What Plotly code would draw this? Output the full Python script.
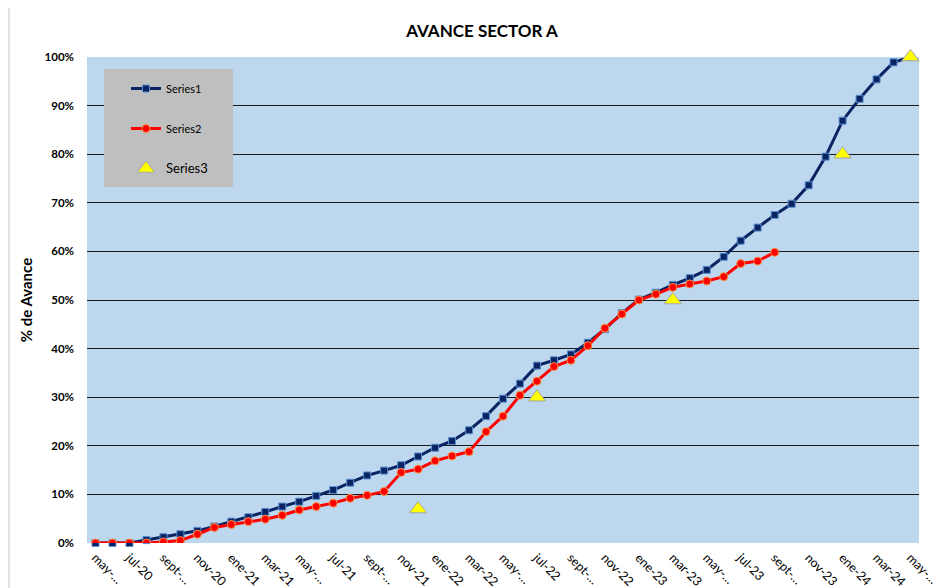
import plotly.graph_objects as go

categories = [
    "may-20", "jun-20", "jul-20", "ago-20", "sept-20", "oct-20", "nov-20", "dic-20",
    "ene-21", "feb-21", "mar-21", "abr-21", "may-21", "jun-21", "jul-21", "ago-21",
    "sept-21", "oct-21", "nov-21", "dic-21", "ene-22", "feb-22", "mar-22", "abr-22",
    "may-22", "jun-22", "jul-22", "ago-22", "sept-22", "oct-22", "nov-22", "dic-22",
    "ene-23", "feb-23", "mar-23", "abr-23", "may-23", "jun-23", "jul-23", "ago-23",
    "sept-23", "oct-23", "nov-23", "dic-23", "ene-24", "feb-24", "mar-24", "abr-24",
    "may-24",
]

series1 = [0, 0, 0, 0.6, 1.2, 1.8, 2.5, 3.4, 4.4, 5.3, 6.4, 7.5, 8.5, 9.7, 10.9, 12.4,
           13.9, 14.9, 16.0, 17.8, 19.6, 21.0, 23.2, 26.1, 29.7, 32.8, 36.5, 37.6, 38.8,
           41.2, 44.0, 47.3, 50.1, 51.5, 53.1, 54.5, 56.2, 58.9, 62.2, 64.9, 67.5, 69.8,
           73.6, 79.5, 86.9, 91.4, 95.4, 98.9, 100]

series2 = [0, 0, 0, 0, 0.2, 0.5, 1.8, 3.2, 3.8, 4.4, 4.9, 5.7, 6.8, 7.5, 8.2, 9.2,
           9.8, 10.6, 14.5, 15.2, 16.9, 17.9, 18.8, 22.9, 26.1, 30.4, 33.3, 36.3, 37.6,
           40.6, 44.2, 47.1, 50.0, 51.2, 52.6, 53.3, 53.9, 54.8, 57.5, 58.0, 59.8]

series3_cats = ["dic-21", "jul-22", "mar-23", "ene-24", "may-24"]
series3_vals = [7, 30, 50, 80, 100]

tick_cats = categories[::2]
tick_text = ["may-…", "jul-20", "sept-…", "nov-20", "ene-21", "mar-21", "may-…",
             "jul-21", "sept-…", "nov-21", "ene-22", "mar-22", "may-…", "jul-22",
             "sept-…", "nov-22", "ene-23", "mar-23", "may-…", "jul-23", "sept-…",
             "nov-23", "ene-24", "mar-24", "may-…"]

FONT = "Lato, Carlito, Calibri, 'Open Sans', sans-serif"

fig = go.Figure()
fig.add_trace(go.Scatter(
    x=categories, y=[v / 100 for v in series1], name="Series1", mode="lines+markers",
    line=dict(color="#0a2463", width=3), cliponaxis=False,
    marker=dict(symbol="square", size=7, color="#0a2463", line=dict(color="#5b8fd0", width=1)),
    legendgroup="g1",
))
fig.add_trace(go.Scatter(
    x=categories[:len(series2)], y=[v / 100 for v in series2], name="Series2", mode="lines+markers",
    line=dict(color="#ff0000", width=3),
    marker=dict(symbol="circle", size=8, color="#ff0000", line=dict(color="#f79646", width=1)),
    legendgroup="g2",
))
fig.add_trace(go.Scatter(
    x=series3_cats, y=[v / 100 for v in series3_vals], cliponaxis=False,
    name="<span style='font-size:13px'>Series3</span>", mode="markers",
    marker=dict(symbol="triangle-up", size=15, color="#ffff00", line=dict(color="#a6a6a6", width=1)),
    legendgroup="g3",
))

OFF = 8  # page body offset
W, H = 941 - OFF, 588 - OFF
PL, PR, PT, PB = 87, 919, 57, 543  # plot area in screen pixels
L, R, T, B = PL - OFF, (W + OFF) - PR, PT - OFF, (H + OFF) - PB
pw, ph = PR - PL, PB - PT


def px(x):
    return (x - PL) / pw


def py(y):
    return (PB - y) / ph


fig.update_layout(
    width=W, height=H,
    margin=dict(l=L, r=R, t=T, b=B, autoexpand=False),
    paper_bgcolor="white",
    plot_bgcolor="#bdd7ee",
    font=dict(family=FONT, color="black"),
    title=dict(text="<b>AVANCE SECTOR A</b>", x=(482 - OFF) / W, xanchor="center",
               y=1 - (31 - OFF) / H, yanchor="middle", font=dict(size=17, family=FONT)),
    showlegend=True,
    legend=dict(x=px(126), y=py(74), xanchor="left", yanchor="top",
                bgcolor="rgba(0,0,0,0)", font=dict(size=11, family=FONT),
                traceorder="grouped", tracegroupgap=21),
    shapes=[
        dict(type="rect", xref="paper", yref="paper", x0=px(104), x1=px(233),
             y0=py(187), y1=py(69), fillcolor="#bfbfbf", line=dict(width=0), layer="above"),
        dict(type="rect", xref="paper", yref="paper", x0=px(9), x1=px(960),
             y0=py(600), y1=py(7), fillcolor="rgba(0,0,0,0)",
             line=dict(color="#e3e3e3", width=2), layer="below"),
    ],
)

fig.update_xaxes(
    type="category", categoryorder="array", categoryarray=categories,
    range=[-0.5, len(categories) - 0.5],
    tickmode="array", tickvals=tick_cats, ticktext=tick_text,
    tickangle=45, tickfont=dict(size=12.5, family=FONT),
    showgrid=False, showline=False, zeroline=False, ticks="", ticklabelstandoff=4,
    tickprefix="<b>", ticksuffix="</b>", automargin=False,
)
fig.update_yaxes(
    range=[0, 1], dtick=0.1, tickformat=".0%",
    tickfont=dict(size=11.5, family=FONT),
    showgrid=True, gridcolor="#1a1a1a", gridwidth=1.2,
    zeroline=False, showline=False, ticks="", ticklabelstandoff=12,
    tickprefix="<b>", ticksuffix="</b>", automargin=False,
    title=dict(text="<b>% de Avance</b>", font=dict(size=15, family=FONT), standoff=8),
)

fig.write_html("out.html")
